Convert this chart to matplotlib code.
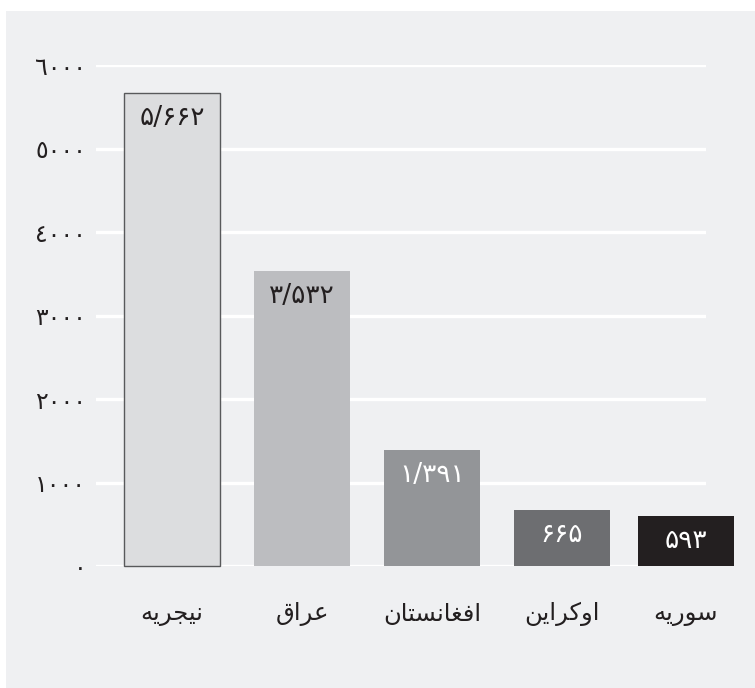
import matplotlib
matplotlib.use("Agg")
import matplotlib.pyplot as plt
from matplotlib.patches import Rectangle

# Country names (Persian, written in visual order with Arabic presentation forms)
categories = [
    "\uFEEA\uFEF3\uFEAE\uFEA0\uFEF4\uFEE7",                 # نیجریه
    "\uFED5\uFE8D\uFEAE\uFECB",                             # عراق
    "\uFEE5\uFE8E\uFE98\uFEB4\uFEE7\uFE8E\uFED0\uFED3\uFE8D", # افغانستان
    "\uFEE6\uFEF3\uFE8D\uFEAE\uFB90\uFEED\uFE8D",           # اوکراین
    "\uFEEA\uFEF3\uFEAD\uFEEE\uFEB3",                       # سوریه
]
values = [5662, 3532, 1391, 665, 593]
value_labels = ["\u06F5/\u06F6\u06F6\u06F2", "\u06F3/\u06F5\u06F3\u06F2",
                "\u06F1/\u06F3\u06F9\u06F1", "\u06F6\u06F6\u06F5", "\u06F5\u06F9\u06F3"]
yticks = [0, 1000, 2000, 3000, 4000, 5000, 6000]
ytick_labels = ["\u0660", "\u0661\u0660\u0660\u0660", "\u0662\u0660\u0660\u0660",
                "\u0663\u0660\u0660\u0660", "\u0664\u0660\u0660\u0660",
                "\u0665\u0660\u0660\u0660", "\u0666\u0660\u0660\u0660"]

bar_colors = ["#dcdddf", "#bcbdc0", "#939598", "#6d6e71", "#231f20"]
text_colors = ["#231f20", "#231f20", "white", "white", "white"]
edge_colors = ["#58595b", "none", "none", "none", "none"]

plt.rcParams['font.family'] = ['DejaVu Sans']

W, H = 755, 688
fig = plt.figure(figsize=(W / 100, H / 100), dpi=100)
fig.patch.set_facecolor("white")
fig.patches.append(Rectangle((6 / W, 0), 1 - 6 / W, 1 - 11 / H,
                             transform=fig.transFigure, facecolor="#eff0f2",
                             edgecolor="none", zorder=-10))

left, right = 96 / W, 706 / W
bottom, top = 1 - 566 / H, 1 - 65 / H
ax = fig.add_axes([left, bottom, right - left, top - bottom], zorder=1)
ax.set_facecolor("none")
for s in ax.spines.values():
    s.set_visible(False)

x = [float(i) for i in range(len(values))]
x[-1] -= 0.046  # last bar sits slightly closer in the original layout
ax.set_xlim(-0.585, 4.108)
ax.set_ylim(0, 6000)

for yv in yticks:
    ax.axhline(yv, color="white", lw=2.4, zorder=1)

bars = ax.bar(x, values, width=0.745, color=bar_colors, zorder=2, clip_on=False)
for b, ec in zip(bars, edge_colors):
    if ec != "none":
        b.set_edgecolor(ec)
        b.set_linewidth(1.0)

for xi, v, lab, tc in zip(x, values, value_labels, text_colors):
    ax.annotate(lab, (xi, v), xytext=(0, -25), textcoords="offset pixels",
                ha="center", va="center", fontsize=19, color=tc, zorder=3,
                annotation_clip=False)

ax.set_yticks(yticks)
ax.set_yticklabels(ytick_labels, fontsize=17, color="#231f20")
ax.tick_params(axis="y", length=0, pad=7)
ax.set_xticks(x)
ax.set_xticklabels(categories, fontsize=17.5, color="#231f20")
ax.tick_params(axis="x", length=0, pad=26)

fig.savefig("out.png", dpi=100, facecolor="white")
